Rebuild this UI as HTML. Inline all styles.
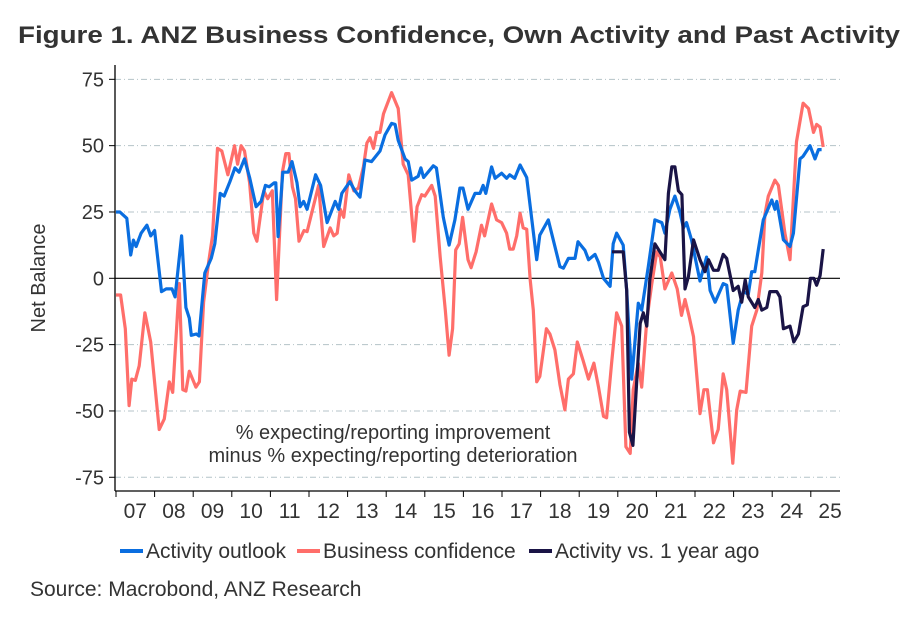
<!DOCTYPE html>
<html><head><meta charset="utf-8"><style>
body{margin:0;background:#fff;}
svg{display:block;font-family:"Liberation Sans",Arial,sans-serif;}
</style></head><body>
<svg id="chart" width="922" height="618" viewBox="0 0 922 618" xmlns="http://www.w3.org/2000/svg">
<text x="18" y="43" font-size="24" font-weight="bold" fill="#333" textLength="882" lengthAdjust="spacingAndGlyphs">Figure 1.  ANZ Business Confidence, Own Activity and Past Activity</text>
<g id="grid"></g>
<g id="axes"></g>
<g id="series"></g>
<text transform="translate(45,278) rotate(-90)" text-anchor="middle" font-size="20" fill="#333">Net Balance</text>
<text x="393" y="439" text-anchor="middle" font-size="20" fill="#333">% expecting/reporting improvement</text>
<text x="393" y="462" text-anchor="middle" font-size="20" fill="#333">minus % expecting/reporting deterioration</text>
<g>
 <g><line x1="120" y1="551" x2="143" y2="551" stroke="#0a6ee0" stroke-width="4"/><text x="146" y="558" font-size="21" fill="#333">Activity outlook</text></g>
 <g><line x1="297" y1="551" x2="320" y2="551" stroke="#ff6e6a" stroke-width="4"/><text x="323" y="558" font-size="21" fill="#333">Business confidence</text></g>
 <g><line x1="529" y1="551" x2="552" y2="551" stroke="#1a1446" stroke-width="4"/><text x="555" y="558" font-size="21" fill="#333">Activity vs. 1 year ago</text></g>
</g>
<text x="30" y="596" font-size="21" fill="#333">Source: Macrobond, ANZ Research</text>
</svg>
<script>
const yTicks=[75,50,25,0,-25,-50,-75];
const yearLabels=["07","08","09","10","11","12","13","14","15","16","17","18","19","20","21","22","23","24","25"];
const outlookT=[2007.0,2007.1,2007.28,2007.38,2007.45,2007.52,2007.65,2007.8,2007.9,2008.0,2008.18,2008.3,2008.45,2008.53,2008.7,2008.81,2008.9,2008.95,2009.08,2009.15,2009.3,2009.47,2009.56,2009.7,2009.8,2009.95,2010.08,2010.19,2010.33,2010.46,2010.63,2010.76,2010.87,2010.97,2011.1,2011.14,2011.2,2011.32,2011.46,2011.56,2011.69,2011.77,2011.86,2011.95,2012.17,2012.3,2012.47,2012.68,2012.77,2012.85,2013.06,2013.19,2013.32,2013.45,2013.62,2013.84,2013.97,2014.14,2014.23,2014.31,2014.49,2014.57,2014.66,2014.83,2014.9,2014.97,2015.22,2015.3,2015.48,2015.63,2015.78,2015.91,2015.99,2016.12,2016.3,2016.43,2016.51,2016.58,2016.73,2016.82,2016.99,2017.12,2017.2,2017.33,2017.47,2017.64,2017.9,2017.98,2018.2,2018.5,2018.59,2018.72,2018.89,2018.97,2019.15,2019.24,2019.41,2019.5,2019.63,2019.8,2019.88,2019.97,2020.14,2020.23,2020.36,2020.53,2020.62,2020.79,2020.96,2021.14,2021.22,2021.35,2021.48,2021.61,2021.7,2021.78,2021.91,2022.13,2022.3,2022.39,2022.52,2022.73,2022.82,2022.99,2023.12,2023.25,2023.38,2023.47,2023.55,2023.64,2023.77,2023.99,2024.07,2024.12,2024.29,2024.46,2024.55,2024.72,2024.8,2024.98,2025.11,2025.2,2025.28];
const outlookV=[25,25,22.6,8.8,14.4,12,17,20,16,18,-5,-4,-4,-7,16,-11,-15,-21.5,-21,-21.7,2,7.6,13,32,31,36.4,41.6,40,45,38,27,29,35,34.5,36,36,15.7,40,40,44,36,27,29,26,39,35,21,29,26,32,36.4,33,30.6,44.6,44,48,54,58.4,58,52,45,44,37,38.5,41.6,38,42.4,41.6,23,12.5,22,34,34,26,32,32,35,32,42,37.7,39.6,37.7,39,37.7,42.7,38,7,16.3,22,4.4,3.8,7.5,7.5,13.8,10.5,7,9,6,0,-3,13,17,12.5,-4.6,-38,-9.4,-12,4.4,22,21,17,26,31,25,19,21,14.5,-1,8,-4.6,-9,-2,-2.6,-24.5,-12,-5,-6,2.5,2.5,10.7,22,29.5,26,29,14.5,12,17,45,46,50,45,48.5,48.5];
const confT=[2007.0,2007.12,2007.24,2007.34,2007.41,2007.5,2007.6,2007.75,2007.9,2008.12,2008.25,2008.38,2008.47,2008.64,2008.73,2008.81,2008.9,2009.07,2009.16,2009.27,2009.4,2009.5,2009.63,2009.74,2009.9,2010.07,2010.15,2010.24,2010.33,2010.46,2010.57,2010.65,2010.83,2010.93,2011.05,2011.16,2011.31,2011.4,2011.48,2011.57,2011.65,2011.74,2011.87,2011.95,2012.25,2012.38,2012.55,2012.64,2012.73,2012.81,2012.9,2013.03,2013.16,2013.28,2013.41,2013.5,2013.58,2013.67,2013.75,2013.84,2013.93,2014.14,2014.31,2014.44,2014.57,2014.72,2014.8,2014.92,2015.0,2015.18,2015.27,2015.4,2015.53,2015.63,2015.72,2015.8,2015.89,2015.98,2016.12,2016.2,2016.33,2016.47,2016.55,2016.73,2016.86,2016.99,2017.12,2017.2,2017.29,2017.38,2017.47,2017.55,2017.64,2017.73,2017.81,2017.9,2017.98,2018.15,2018.24,2018.37,2018.5,2018.63,2018.72,2018.85,2018.95,2019.1,2019.24,2019.38,2019.5,2019.63,2019.71,2019.84,2019.97,2020.1,2020.21,2020.32,2020.4,2020.53,2020.62,2020.75,2020.88,2021.01,2021.1,2021.22,2021.4,2021.54,2021.65,2021.74,2021.85,2021.96,2022.13,2022.23,2022.32,2022.48,2022.6,2022.73,2022.82,2022.98,2023.08,2023.17,2023.32,2023.47,2023.6,2023.73,2023.81,2023.9,2024.07,2024.16,2024.33,2024.46,2024.63,2024.8,2024.94,2025.07,2025.15,2025.24,2025.32];
const confV=[-6.3,-6.3,-19,-48,-38,-38.5,-33,-13,-24,-57,-53,-39,-43,-2,-42,-42.5,-35,-41,-39,-9,6,16,49,48,39,50,43,50,48,36,17,14,33,30,33,-8,40,47,47,34.5,30,14,18,17.6,35,12,19,16,17,26,23,39,33,34,42,51,53,49,55,55,62,70,64,43,39,14,27,31.5,31,35,31,8,-12,-29,-19,10.7,13,23,7,4,10,20,16,28,22,21,17,11,11,16,24.5,19,18.5,-0.6,-12,-39,-37,-19,-21,-27,-40,-49.6,-38,-36,-24,-31,-38,-32,-41,-52,-52.6,-32,-13,-18,-63.5,-66,-42,-32,-41,-15.8,-2,10,8,-4,2,-4,-14,-8,-14.5,-22,-51,-42,-42,-62,-57,-36,-42,-69.7,-49.6,-42.5,-43,-18,-12,2,24,31,37,35,17,7,51.5,66,64,55,58,57,49.5];
const pastT=[2019.85,2019.97,2020.14,2020.23,2020.3,2020.39,2020.49,2020.58,2020.66,2020.75,2020.83,2020.96,2021.09,2021.22,2021.31,2021.4,2021.48,2021.57,2021.66,2021.74,2021.83,2021.96,2022.13,2022.26,2022.35,2022.48,2022.6,2022.73,2022.82,2022.99,2023.12,2023.21,2023.3,2023.38,2023.55,2023.64,2023.73,2023.86,2023.94,2024.12,2024.2,2024.29,2024.46,2024.56,2024.68,2024.8,2024.91,2024.99,2025.08,2025.15,2025.24,2025.32];
const pastV=[10,10,10,-4.6,-58,-63,-39,-17,-13,-18,-0.6,13,10,7,32,42,42,33,31.5,-4,0.6,14.5,7,2.5,7,3,3,9,7.5,-4.6,-3,-9,-0.6,-7,-11,-8,-12,-11,-5,-5,-7,-19,-18,-24,-21,-10.7,-10,0,0,-2.6,1,11];

const NS="http://www.w3.org/2000/svg";
const X0=116, PXY=38.6, Y0=278.3, PXV=2.653;
const xs=t=>X0+(t-2007)*PXY;
const ys=v=>Y0-v*PXV;
function mk(tag,attrs,parent){const e=document.createElementNS(NS,tag);for(const k in attrs)e.setAttribute(k,attrs[k]);parent.appendChild(e);return e;}
const grid=document.getElementById('grid'),axes=document.getElementById('axes'),ser=document.getElementById('series');
yTicks.forEach(v=>{
  if(v!==0){const g=mk('line',{x1:115,x2:840,y1:ys(v),y2:ys(v),stroke:'#b4c3c8','stroke-width':1,'stroke-dasharray':'6,3,1,3'},grid);
  
  }
  const tk=mk('line',{x1:109,x2:115,y1:ys(v),y2:ys(v),stroke:'#000','stroke-width':1},axes);
  
  
  const tx=mk('text',{x:104,y:ys(v)+7,'text-anchor':'end','font-size':20,fill:'#333'},axes);
  tx.textContent=v;
  
  
});
const zl=mk('line',{x1:115,x2:840,y1:ys(0),y2:ys(0),stroke:'#000','stroke-width':1.2},axes);


const ya=mk('line',{x1:115,x2:115,y1:65,y2:491,stroke:'#000','stroke-width':1.3},axes);


const xa=mk('line',{x1:115,x2:840,y1:491,y2:491,stroke:'#000','stroke-width':1.3},axes);


yearLabels.forEach((lab,i)=>{
  const tk=mk('line',{x1:xs(2007+i),x2:xs(2007+i),y1:491,y2:497,stroke:'#000','stroke-width':1},axes);
  
  
  const tx=mk('text',{x:xs(2007.5+i),y:518,'text-anchor':'middle','font-size':21,fill:'#333'},axes);
  tx.textContent=lab;
  
  
});
function line(T,V,color,name){
  const d=T.map((t,i)=>(i?'L':'M')+xs(t).toFixed(1)+','+ys(V[i]).toFixed(1)).join('');
  const p=mk('path',{d:d,fill:'none',stroke:color,'stroke-width':3.2,'stroke-linejoin':'round'},ser);
  
  
}
line(confT,confV,'#ff6e6a','business-confidence-line');
line(outlookT,outlookV,'#0a6ee0','activity-outlook-line');
line(pastT,pastV,'#1a1446','activity-vs-year-ago-line');
</script>
</body></html>
